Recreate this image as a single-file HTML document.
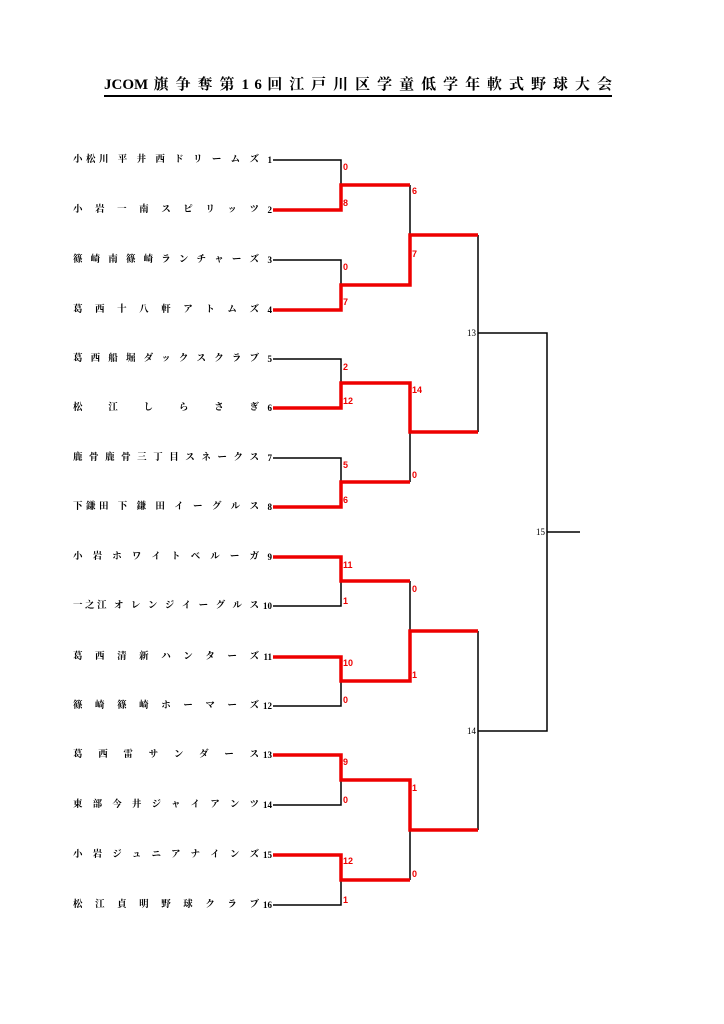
<!DOCTYPE html>
<html><head><meta charset="utf-8">
<style>
html,body{margin:0;padding:0;background:#fff;}
body{width:724px;height:1024px;position:relative;overflow:hidden;font-family:"Liberation Serif","Noto Serif CJK SC","Noto Sans CJK JP",serif;}
.title{position:absolute;left:104px;top:76px;width:508px;font-size:15px;font-weight:bold;text-align-last:justify;text-align:justify;line-height:18px;border-bottom:2px solid #000;padding-bottom:1px;}
.t{position:absolute;left:73px;width:186px;font-size:9.5px;font-weight:bold;text-align:justify;text-align-last:justify;line-height:11px;white-space:nowrap;}
.n{position:absolute;left:258px;width:14px;text-align:right;font-size:9px;font-weight:bold;line-height:11px;}
.s{position:absolute;font-family:"Liberation Sans",sans-serif;font-size:9px;font-weight:bold;color:#e00;line-height:10px;}
.k{position:absolute;font-size:9px;line-height:10px;}
</style></head><body>
<div class="title">JCOM 旗 争 奪 第 1 6 回 江 戸 川 区 学 童 低 学 年 軟 式 野 球 大 会</div>

<div class="t" style="top:155px">小松川 平 井 西 ド リ ー ム ズ</div><div class="n" style="top:155px">1</div>
<div class="t" style="top:205px">小 岩 一 南 ス ピ リ ッ ツ</div><div class="n" style="top:205px">2</div>
<div class="t" style="top:255px">篠 崎 南 篠 崎 ラ ン チ ャ ー ズ</div><div class="n" style="top:255px">3</div>
<div class="t" style="top:305px">葛 西 十 八 軒 ア ト ム ズ</div><div class="n" style="top:305px">4</div>
<div class="t" style="top:354px">葛 西 船 堀 ダ ッ ク ス ク ラ ブ</div><div class="n" style="top:354px">5</div>
<div class="t" style="top:403px">松 江 し ら さ ぎ</div><div class="n" style="top:403px">6</div>
<div class="t" style="top:453px">鹿 骨 鹿 骨 三 丁 目 ス ネ ー ク ス</div><div class="n" style="top:453px">7</div>
<div class="t" style="top:502px">下鎌田 下 鎌 田 イ ー グ ル ス</div><div class="n" style="top:502px">8</div>
<div class="t" style="top:552px">小 岩 ホ ワ イ ト ベ ル ー ガ</div><div class="n" style="top:552px">9</div>
<div class="t" style="top:601px">一之江 オ レ ン ジ イ ー グ ル ス</div><div class="n" style="top:601px">10</div>
<div class="t" style="top:652px">葛 西 清 新 ハ ン タ ー ズ</div><div class="n" style="top:652px">11</div>
<div class="t" style="top:701px">篠 崎 篠 崎 ホ ー マ ー ズ</div><div class="n" style="top:701px">12</div>
<div class="t" style="top:750px">葛 西 雷 サ ン ダ ー ス</div><div class="n" style="top:750px">13</div>
<div class="t" style="top:800px">東 部 今 井 ジ ャ イ ア ン ツ</div><div class="n" style="top:800px">14</div>
<div class="t" style="top:850px">小 岩 ジ ュ ニ ア ナ イ ン ズ</div><div class="n" style="top:850px">15</div>
<div class="t" style="top:900px">松 江 貞 明 野 球 ク ラ ブ</div><div class="n" style="top:900px">16</div>

<svg width="724" height="1024" style="position:absolute;left:0;top:0" fill="none">
<g stroke="#000" stroke-width="1.5">
<path d="M273 160H341V185"/>
<path d="M273 260H341V285"/>
<path d="M273 359H341V383"/>
<path d="M273 458H341V482"/>
<path d="M273 606H341V581"/>
<path d="M273 706H341V681"/>
<path d="M273 805H341V780"/>
<path d="M273 905H341V880"/>
<path d="M410 185V235"/>
<path d="M410 432V482"/>
<path d="M410 581V631"/>
<path d="M410 830V880"/>
<path d="M478 235V432"/>
<path d="M478 631V830"/>
<path d="M478 333H547V731H478"/>
<path d="M547 532H580"/>
</g>
<g stroke="#e00" stroke-width="3.5" stroke-linejoin="miter">
<path d="M273 210H341V185H410"/>
<path d="M273 310H341V285H410V235H478"/>
<path d="M273 408H341V383H410V432H478"/>
<path d="M273 507H341V482H410"/>
<path d="M273 557H341V581H410"/>
<path d="M273 657H341V681H410V631H478"/>
<path d="M273 755H341V780H410V830H478"/>
<path d="M273 855H341V880H410"/>
</g>
</svg>

<div class="s" style="left:343px;top:162px">0</div>
<div class="s" style="left:343px;top:198px">8</div>
<div class="s" style="left:343px;top:262px">0</div>
<div class="s" style="left:343px;top:297px">7</div>
<div class="s" style="left:343px;top:362px">2</div>
<div class="s" style="left:343px;top:396px">12</div>
<div class="s" style="left:343px;top:460px">5</div>
<div class="s" style="left:343px;top:495px">6</div>
<div class="s" style="left:343px;top:560px">11</div>
<div class="s" style="left:343px;top:596px">1</div>
<div class="s" style="left:343px;top:658px">10</div>
<div class="s" style="left:343px;top:695px">0</div>
<div class="s" style="left:343px;top:757px">9</div>
<div class="s" style="left:343px;top:795px">0</div>
<div class="s" style="left:343px;top:856px">12</div>
<div class="s" style="left:343px;top:895px">1</div>

<div class="s" style="left:412px;top:186px">6</div>
<div class="s" style="left:412px;top:249px">7</div>
<div class="s" style="left:412px;top:385px">14</div>
<div class="s" style="left:412px;top:470px">0</div>
<div class="s" style="left:412px;top:584px">0</div>
<div class="s" style="left:412px;top:670px">1</div>
<div class="s" style="left:412px;top:783px">1</div>
<div class="s" style="left:412px;top:869px">0</div>

<div class="k" style="left:467px;top:328px">13</div>
<div class="k" style="left:467px;top:726px">14</div>
<div class="k" style="left:536px;top:527px">15</div>
</body></html>
